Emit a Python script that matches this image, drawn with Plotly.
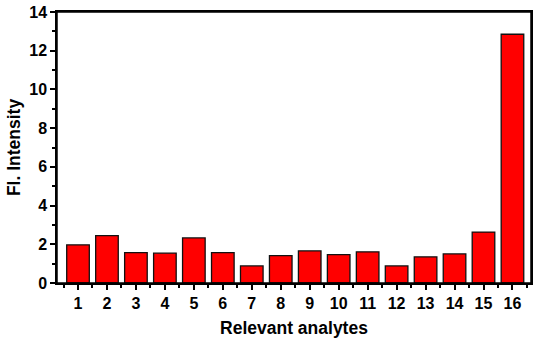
import plotly.graph_objects as go

categories = list(range(1, 17))
values = [1.97, 2.45, 1.57, 1.54, 2.33, 1.57, 0.88, 1.41, 1.66, 1.47, 1.61, 0.88, 1.35, 1.50, 2.63, 12.85]
y_ticks = [0, 2, 4, 6, 8, 10, 12, 14]

fig = go.Figure(go.Bar(
    x=categories, y=values,
    marker=dict(color="#FF0000", line=dict(color="#111111", width=1.3)),
    width=0.78,
))

FAM = "Liberation Sans, Arial, sans-serif"
fig.update_layout(
    width=536, height=343,
    margin=dict(l=57, r=5, t=12, b=60, autoexpand=False),
    paper_bgcolor="white", plot_bgcolor="white",
    showlegend=False,
    font=dict(family=FAM, color="black"),
)
fig.update_xaxes(
    range=[0.275, 16.64], automargin=False,
    tickmode="array", tickvals=categories, ticktext=["<b>%d</b>" % c for c in categories],
    ticks="outside", ticklen=5, tickwidth=1.5, tickcolor="black",
    minor=dict(ticks="outside", ticklen=3, tickwidth=1.5, tickcolor="black", dtick=0.5, tick0=0.5),
    showline=True, linecolor="black", linewidth=1.5, mirror=True,
    showgrid=False, zeroline=False,
    tickfont=dict(size=16, family=FAM, color="black"),
    title=dict(text="<b>Relevant analytes</b>", font=dict(size=17.5, family=FAM), standoff=11),
)
fig.update_yaxes(
    range=[0, 14], automargin=False,
    tickmode="array", tickvals=y_ticks, ticktext=["<b>%d</b>" % t for t in y_ticks],
    ticks="outside", ticklen=5, tickwidth=1.5, tickcolor="black",
    minor=dict(ticks="outside", ticklen=3, tickwidth=1.5, tickcolor="black", dtick=1),
    showline=True, linecolor="black", linewidth=1.5, mirror=True,
    showgrid=False, zeroline=False,
    tickfont=dict(size=16, family=FAM, color="black"),
    title=dict(text="<b>Fl. Intensity</b>", font=dict(size=17.5, family=FAM), standoff=4),
)
fig.add_shape(type="rect", xref="paper", yref="paper", x0=0, x1=1, y0=0, y1=1,
              line=dict(color="black", width=1.5), layer="above")

fig.write_html("out.html", config={"displayModeBar": False},
               post_script="document.body.style.margin='0';document.body.style.overflow='hidden';")
